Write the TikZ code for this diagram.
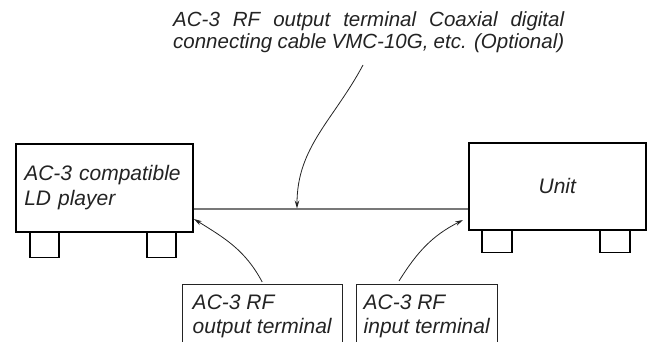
\documentclass[tikz,border=0pt]{standalone}
\usepackage{fontspec}
\setmainfont{Liberation Sans}
\usetikzlibrary{arrows.meta,positioning,calc}
\definecolor{ink}{RGB}{35,35,35}
\definecolor{wire}{RGB}{120,120,120}

\begin{document}
\begin{tikzpicture}[x=1pt,y=1pt,
    box/.style={draw=black,line width=1.6pt,minimum width=177pt,minimum height=88pt,
      inner sep=0pt,font=\fontsize{21}{25}\selectfont\itshape,text=ink},
    foot/.style={draw=black,line width=1.6pt},
    tag/.style={anchor=north west,align=left,inner ysep=11pt,
      font=\fontsize{21}{24}\selectfont\itshape,text=ink},
    tagline/.style={draw=ink,line width=0.8pt},
    pointer/.style={draw=ink,line width=0.8pt,-{Stealth[length=8pt,width=4.5pt]}},
    cable/.style={draw=wire,line width=1.3pt}]
  \useasboundingbox (0,0) rectangle (650,-342);

  % the two units
  \node[box,anchor=north west,align=left,text width=160pt] (ldp) at (15,-143)
    {AC-3 compatible\\LD player};
  \node[box,anchor=north west,minimum height=87pt] (unit) at (468,-142) {Unit};
  \foreach \dx in {15,132}
    \draw[foot] ([xshift=\dx pt]ldp.south west) rectangle ++(29,-25);
  \foreach \dx in {14,132}
    \draw[foot] ([xshift=\dx pt]unit.south west) rectangle ++(30,-22);

  % cable between them
  \coordinate (cab) at (0,-209);
  \draw[cable] (ldp.east |- cab) -- (unit.west |- cab);
  \coordinate (tap) at (297,-208.5);
  \coordinate (outjack) at (194,-219);
  \coordinate (injack) at (463,-220);

  % labels
  \node[anchor=base west,inner sep=0pt,text width=391pt,align=justify,
    font=\fontsize{20.5}{22}\selectfont\itshape,text=ink] (note) at (173,-27)
    {AC-3 RF output terminal Coaxial digital\linebreak
     connecting cable VMC-10G, etc. (Optional)};
  \node[tag,minimum width=160pt] (outtag) at (182,-284)
    {AC-3 RF\\output terminal};
  \node[tag,minimum width=141pt] (intag) at (356,-284)
    {AC-3 RF\\input terminal};
  \coordinate (floor) at (0,-342);
  \draw[tagline] (outtag.north west |- floor) -- (outtag.north west)
    -- (outtag.north east) -- (outtag.north east |- floor);
  \draw[tagline] (intag.north west |- floor) -- (intag.north west)
    -- (intag.north east) -- (intag.north east |- floor);

  % leaders
  \draw[pointer] (363,-65) to[out=242,in=90] (tap);
  \draw[pointer] ([yshift=2pt]outtag.north) to[out=118,in=-32] (outjack);
  \draw[pointer] ([xshift=43pt,yshift=3pt]intag.north west) to[out=58,in=207] (injack);
\end{tikzpicture}
\end{document}
